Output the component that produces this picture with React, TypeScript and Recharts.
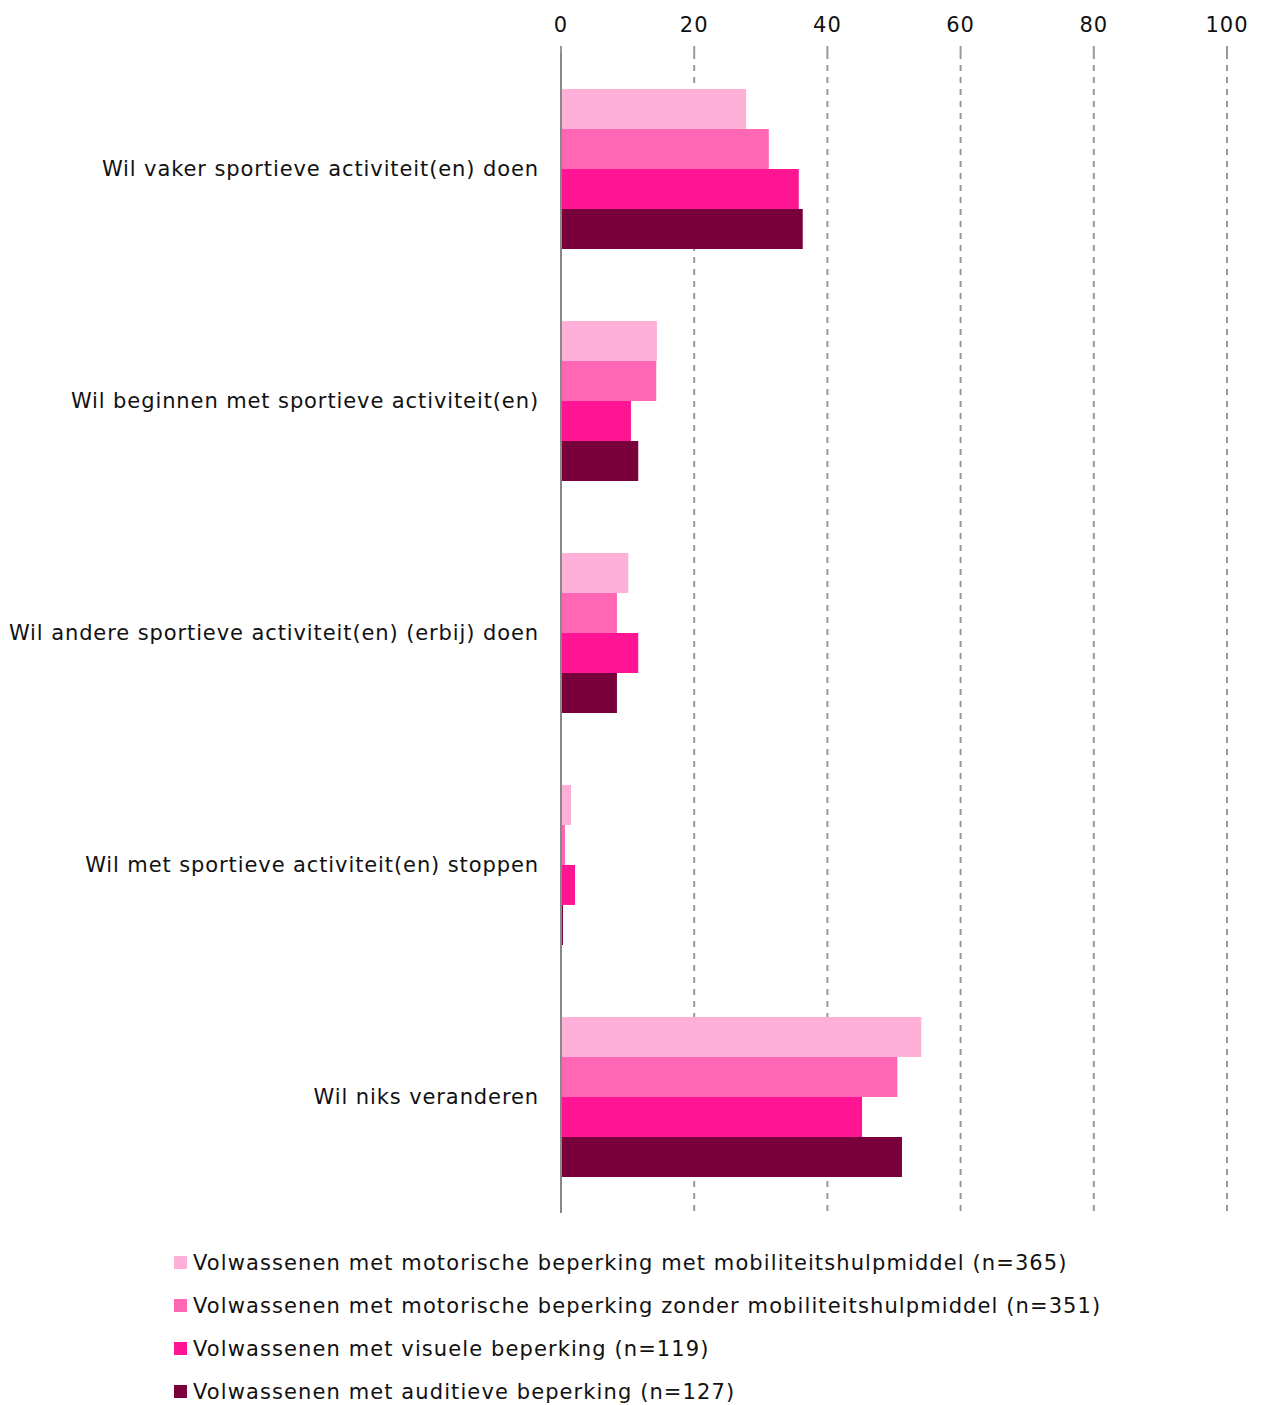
import { BarChart, Bar, XAxis, YAxis, CartesianGrid, Legend } from "recharts";

const categories = [
  "Wil vaker sportieve activiteit(en) doen",
  "Wil beginnen met sportieve activiteit(en)",
  "Wil andere sportieve activiteit(en) (erbij) doen",
  "Wil met sportieve activiteit(en) stoppen",
  "Wil niks veranderen",
];

const seriesNames = [
  "Volwassenen met motorische beperking met mobiliteitshulpmiddel (n=365)",
  "Volwassenen met motorische beperking zonder mobiliteitshulpmiddel (n=351)",
  "Volwassenen met visuele beperking (n=119)",
  "Volwassenen met auditieve beperking (n=127)",
];

const motorMet = [27.8, 14.4, 10.1, 1.5, 54.1];
const motorZonder = [31.2, 14.3, 8.4, 0.6, 50.5];
const visueel = [35.7, 10.5, 11.6, 2.1, 45.2];
const auditief = [36.3, 11.6, 8.4, 0.3, 51.2];

const xTicks = [0, 20, 40, 60, 80, 100];

const colors = ["#FEB0D9", "#FF66B4", "#FF1593", "#7A003C"];
const keys = ["s1", "s2", "s3", "s4"];

const data = categories.map((name, i) => ({
  name,
  s1: motorMet[i],
  s2: motorZonder[i],
  s3: visueel[i],
  s4: auditief[i],
}));

const FONT = "'DejaVu Sans', sans-serif";

const LegendBox = () => (
  <div style={{ height: 192, paddingLeft: 174, paddingTop: 28, boxSizing: "border-box", fontFamily: FONT, overflow: "visible" }}>
    {seriesNames.map((n, i) => (
      <div key={n} style={{ display: "flex", alignItems: "center", height: 43 }}>
        <span style={{ width: 13, height: 13, background: colors[i], marginRight: 6, display: "inline-block" }} />
        <span style={{ fontSize: 21, color: "#111", letterSpacing: 1.1, whiteSpace: "nowrap" }}>{n}</span>
      </div>
    ))}
  </div>
);

export default function App() {
  return (
    <div style={{ marginTop: -8, marginLeft: -8, width: 1261, height: 1405, background: "#fff" }}>
      <BarChart
        width={1261}
        height={1405}
        data={data}
        layout="vertical"
        margin={{ top: 0, right: 34, bottom: 0, left: 0 }}
        barCategoryGap="15.5%"
        barGap={0}
      >
        <CartesianGrid horizontal={false} stroke="#999" strokeDasharray="6 6" strokeWidth={2} />
        <XAxis
          type="number"
          orientation="top"
          domain={[0, 100]}
          ticks={xTicks}
          height={53}
          axisLine={false}
          tickSize={7}
          tickLine={{ stroke: "#999", strokeWidth: 2 }}
          tickMargin={14}
          tick={{ fill: "#111", fontSize: 21, fontFamily: FONT, letterSpacing: 1 }}
        />
        <YAxis
          type="category"
          dataKey="name"
          width={561}
          tickSize={0}
          tickMargin={22}
          axisLine={{ stroke: "#888", strokeWidth: 2 }}
          tick={{ fill: "#111", fontSize: 21, fontFamily: FONT, letterSpacing: 0.9 }}
        />
        {keys.map((k, i) => (
          <Bar key={k} dataKey={k} name={seriesNames[i]} fill={colors[i]} isAnimationActive={false} />
        ))}
        <Legend verticalAlign="bottom" content={<LegendBox />} />
      </BarChart>
    </div>
  );
}
